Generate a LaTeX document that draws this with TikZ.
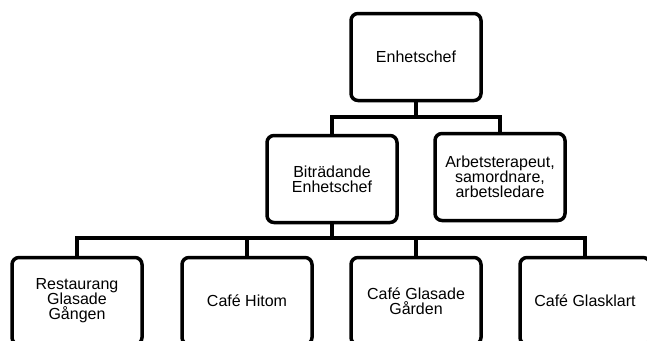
\documentclass[tikz,border=0pt]{standalone}
\usepackage{fontspec}
\setmainfont{Liberation Sans}
\begin{document}
\begin{tikzpicture}[x=1pt,y=1pt,
        ruta/.style={shape=rectangle,draw=black,line width=3.5pt,rounded corners=7pt,
                minimum width=130pt,minimum height=87pt,align=center,
                font=\fontsize{16}{15}\selectfont},
        linje/.style={draw=black,line width=3.5pt}]

                \useasboundingbox (0,0) rectangle (647,-340);

                \node[ruta] (chef) at (416,-57) {Enhetschef};
                \node[ruta] (bitr) at (332,-179) {Biträdande\\Enhetschef};
                \node[ruta] (arb) at (500,-177) {Arbetsterapeut,\\samordnare,\\arbetsledare};
                \node[ruta] (rest) at (77,-301) {Restaurang\\Glasade\\Gången};
                \node[ruta] (hitom) at (247,-301) {Café Hitom};
                \node[ruta] (garden) at (416,-301) {Café Glasade\\Gården};
                \node[ruta] (klart) at (585,-301) {Café Glasklart};

                \coordinate (j1) at (416,-117);
                \coordinate (j2) at (332,-238);

                \draw[linje] (chef.south) -- (j1);
                \draw[linje] (bitr.north) |- (j1) -| (arb.north);

                \draw[linje] (bitr.south) -- (j2);
                \draw[linje] (rest.north) |- (j2) -| (klart.north);
                \draw[linje] (hitom.north) |- (j2);
                \draw[linje] (garden.north) |- (j2);

            \end{tikzpicture}
\end{document}
